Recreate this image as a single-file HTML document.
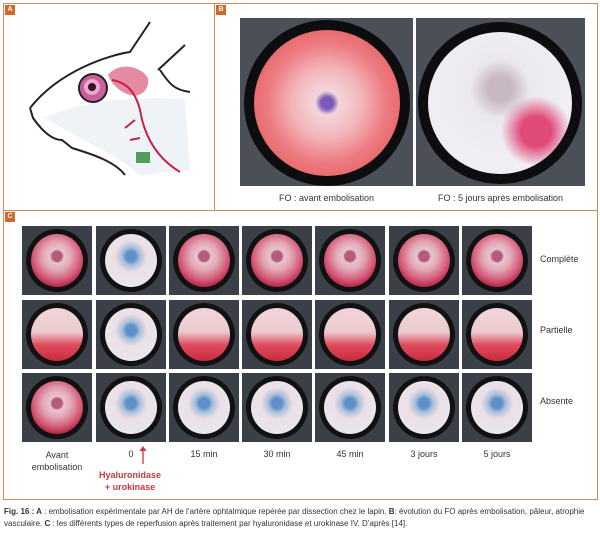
<!DOCTYPE html>
<html><head><meta charset="utf-8"><style>
*{margin:0;padding:0;box-sizing:border-box}
body{width:600px;height:536px;background:#fff;position:relative;font-family:"Liberation Sans",sans-serif;overflow:hidden}
.box{position:absolute;border:1.5px solid #d08a5c}
.tag{position:absolute;width:10px;height:10px;background:#d4662a;color:#fff;font-size:7px;font-weight:bold;text-align:center;line-height:10px}
.cell{position:absolute;width:70px;height:69px;background:#3b3f47;overflow:hidden}
.cell i{position:absolute;left:4px;top:3px;width:62px;height:63px;border-radius:50%;background:#111;}
.cell b{position:absolute;left:9px;top:8px;width:52px;height:53px;border-radius:50%}
.r b{background:radial-gradient(circle at 50% 42%,#b45a7a 0 5px,#e8c4cc 7px,#e3a7b6 14px,#d45a78 24px,#b82a4c 30px)}
.p b{background:linear-gradient(#f0d4da 0%,#eccbd0 45%,#e04a5c 70%,#c82a3e 100%)}
.w b{background:radial-gradient(circle at 50% 42%,#5f8fc8 0 5px,#a9c0dc 9px,#ecdfe6 16px,#e8e6ee 30px)}
.lbl{position:absolute;font-size:9px;color:#333;text-align:center}
</style></head><body>
<div class="box" style="left:3px;top:3px;width:212px;height:208px"></div>
<div class="box" style="left:214px;top:3px;width:384px;height:208px"></div>
<div class="box" style="left:3px;top:210px;width:595px;height:290px"></div>
<div class="tag" style="left:5px;top:5px">A</div>
<div class="tag" style="left:216px;top:5px">B</div>
<div class="tag" style="left:5px;top:212px">C</div>

<svg style="position:absolute;left:0;top:0" width="214" height="210">
<path d="M45 118 C80 100 150 95 185 100 L190 170 L140 175 C110 150 80 140 45 118Z" fill="#eef3f8"/>
<path d="M30 108 C60 70 110 55 130 52 L150 22 M158 70 L185 45 M160 70 C170 85 175 90 190 92 M30 108 L33 118 C45 135 55 140 62 140 L72 148 C95 155 115 162 125 175" fill="none" stroke="#222" stroke-width="2"/>
<circle cx="93" cy="88" r="14" fill="#c9609a" stroke="#222" stroke-width="2"/>
<circle cx="92" cy="87" r="8" fill="#e8a8d0"/><circle cx="92" cy="87" r="4" fill="#3a1020"/>
<path d="M108 75 C118 62 140 65 148 78 C150 90 140 98 130 95 C120 92 112 85 108 75Z" fill="#e58aa3"/>
<path d="M112 80 C125 82 135 90 140 110 C145 140 160 160 180 172 M135 120 L125 128 M140 138 L130 140" fill="none" stroke="#c8203e" stroke-width="2"/>
<rect x="136" y="152" width="14" height="11" fill="#4da05a"/>
</svg>

<div style="position:absolute;left:240px;top:18px;width:173px;height:168px;background:#4a4f58">
<div style="position:absolute;left:4px;top:2px;width:166px;height:166px;border-radius:50%;background:#0d0d10"></div>
<div style="position:absolute;left:14px;top:12px;width:146px;height:146px;border-radius:50%;background:radial-gradient(circle at 50% 50%,#7a5ab8 0 6px,#f3d6da 12px,#f2b4b8 35px,#ec7a80 60px,#e86c6e 73px)"></div></div>
<div style="position:absolute;left:416px;top:18px;width:169px;height:168px;background:#4a4f58">
<div style="position:absolute;left:2px;top:4px;width:164px;height:162px;border-radius:50%;background:#0d0d10"></div>
<div style="position:absolute;left:12px;top:14px;width:144px;height:142px;border-radius:50%;background:radial-gradient(circle at 75% 70%,#e04a78 0 15px,rgba(230,180,200,0) 35px),radial-gradient(circle at 50% 40%,#c8b8c4 0 12px,#ece8f0 30px,#f0eef4 70px)"></div></div>
<div class="lbl" style="left:240px;top:193px;width:173px">FO : avant embolisation</div>
<div class="lbl" style="left:416px;top:193px;width:169px">FO : 5 jours après embolisation</div>

<div class="cell r" style="left:22px;top:226px"><i></i><b></b></div>
<div class="cell w" style="left:96px;top:226px"><i></i><b></b></div>
<div class="cell r" style="left:169px;top:226px"><i></i><b></b></div>
<div class="cell r" style="left:242px;top:226px"><i></i><b></b></div>
<div class="cell r" style="left:315px;top:226px"><i></i><b></b></div>
<div class="cell r" style="left:389px;top:226px"><i></i><b></b></div>
<div class="cell r" style="left:462px;top:226px"><i></i><b></b></div>
<div class="cell p" style="left:22px;top:300px"><i></i><b></b></div>
<div class="cell w" style="left:96px;top:300px"><i></i><b></b></div>
<div class="cell p" style="left:169px;top:300px"><i></i><b></b></div>
<div class="cell p" style="left:242px;top:300px"><i></i><b></b></div>
<div class="cell p" style="left:315px;top:300px"><i></i><b></b></div>
<div class="cell p" style="left:389px;top:300px"><i></i><b></b></div>
<div class="cell p" style="left:462px;top:300px"><i></i><b></b></div>
<div class="cell r" style="left:22px;top:373px"><i></i><b></b></div>
<div class="cell w" style="left:96px;top:373px"><i></i><b></b></div>
<div class="cell w" style="left:169px;top:373px"><i></i><b></b></div>
<div class="cell w" style="left:242px;top:373px"><i></i><b></b></div>
<div class="cell w" style="left:315px;top:373px"><i></i><b></b></div>
<div class="cell w" style="left:389px;top:373px"><i></i><b></b></div>
<div class="cell w" style="left:462px;top:373px"><i></i><b></b></div>

<div class="lbl" style="left:540px;top:254px;text-align:left">Complète</div>
<div class="lbl" style="left:540px;top:325px;text-align:left">Partielle</div>
<div class="lbl" style="left:540px;top:396px;text-align:left">Absente</div>

<div class="lbl" style="left:17px;top:449px;width:80px;line-height:12px">Avant<br>embolisation</div>
<div class="lbl" style="left:96px;top:449px;width:70px">0</div>
<div class="lbl" style="left:169px;top:449px;width:70px">15 min</div>
<div class="lbl" style="left:242px;top:449px;width:70px">30 min</div>
<div class="lbl" style="left:315px;top:449px;width:70px">45 min</div>
<div class="lbl" style="left:389px;top:449px;width:70px">3 jours</div>
<div class="lbl" style="left:462px;top:449px;width:70px">5 jours</div>
<svg style="position:absolute;left:138px;top:445px" width="10" height="20"><path d="M5 19 V3" stroke="#c83a3a" stroke-width="1.3"/><path d="M1.5 6 L5 1 L8.5 6Z" fill="#c83a3a"/></svg>
<div class="lbl" style="left:90px;top:469px;width:80px;color:#c83a3a;font-weight:bold;line-height:12px">Hyaluronidase<br>+ urokinase</div>

<div style="position:absolute;left:4px;top:506px;width:596px;font-size:8px;line-height:12px;color:#333;white-space:nowrap"><b>Fig. 16 : A</b> : embolisation expérimentale par AH de l’artère ophtalmique repérée par dissection chez le lapin. <b>B</b>: évolution du FO après embolisation, pâleur, atrophie<br>vasculaire. <b>C</b> : les différents types de reperfusion après traitement par hyaluronidase et urokinase IV. D’après [14].</div>
</body></html>
